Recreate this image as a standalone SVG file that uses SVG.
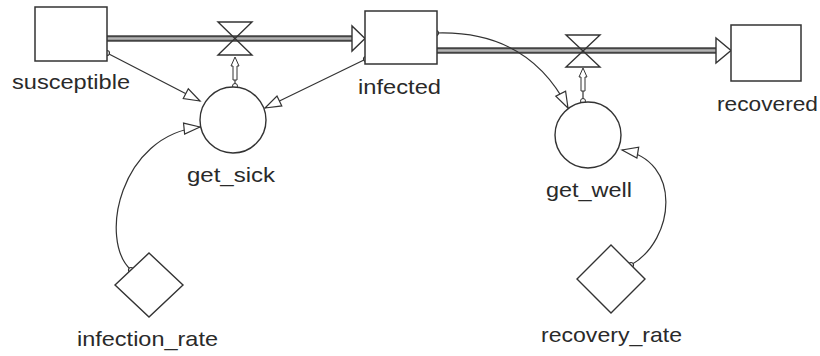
<svg xmlns="http://www.w3.org/2000/svg" width="820" height="356" viewBox="0 0 820 356">
<style>
.stock{fill:#fff;stroke:#333;stroke-width:1.5}
.aux{fill:#fff;stroke:#333;stroke-width:1.4}
.lbl{font-family:"Liberation Sans",Arial,sans-serif;font-size:21px;fill:#2a2a2a}
.conn{fill:none;stroke:#333;stroke-width:1.2}
.pipeO{stroke:#444;stroke-width:6.5;fill:none}
.pipeI{stroke:#b4b4b4;stroke-width:2.5;fill:none}
.valve{fill:none;stroke:#333;stroke-width:1.4}
.head{fill:#fff;stroke:#333;stroke-width:1.4}
.small{fill:#fff;stroke:#333;stroke-width:1}
</style>
<defs>
<marker id="arr" markerUnits="userSpaceOnUse" markerWidth="20" markerHeight="14" viewBox="-18 -7 20 14" refX="0" refY="0" orient="auto">
<path d="M0,0 L-16,-5.5 L-16,5.5 Z" fill="#fff" stroke="#333" stroke-width="1.2"/>
</marker>
<marker id="dot" markerUnits="userSpaceOnUse" markerWidth="8" markerHeight="8" viewBox="-4 -4 8 8" refX="0" refY="0">
<circle r="2.5" fill="#fff" stroke="#333" stroke-width="1.2"/>
</marker>
</defs>

<g id="flows">
<g id="pipe-get_sick">
<line class="pipeO" x1="107" y1="38.5" x2="352" y2="38.5"/>
<line class="pipeI" x1="107" y1="38.5" x2="352" y2="38.5"/>
<path class="valve" d="M218,22 H252 L218,55 H252 Z"/>
<path class="head" d="M352,26 L352,51 L365,38.5 Z"/>
</g>
<g id="pipe-get_well">
<line class="pipeO" x1="437" y1="50.5" x2="716" y2="50.5"/>
<line class="pipeI" x1="437" y1="50.5" x2="716" y2="50.5"/>
<path class="valve" d="M566,35 H600 L566,67 H600 Z"/>
<path class="head" d="M716,38 L716,63 L731,50.5 Z"/>
</g>
</g>

<g id="connectors">
<path class="conn" d="M107,53 L200,101" marker-start="url(#dot)" marker-end="url(#arr)"/>
<path class="conn" d="M366,59 L265,108" marker-start="url(#dot)" marker-end="url(#arr)"/>
<path class="conn" d="M131,270 C98,240 120,135 200,127" marker-start="url(#dot)" marker-end="url(#arr)"/>
<path class="conn" d="M436,33 Q528,30 568,108" marker-start="url(#dot)" marker-end="url(#arr)"/>
<path class="conn" d="M631,265 C675,240 683,160 622,150" marker-start="url(#dot)" marker-end="url(#arr)"/>
<g id="valve-link-1">
<line class="conn" x1="235" y1="80" x2="235" y2="85"/>
<path class="small" d="M235,57 L239,66 L237,66 L237,80 L233,80 L233,66 L231,66 Z"/>
<circle class="small" cx="235" cy="86" r="2.5"/>
</g>
<g id="valve-link-2">
<line class="conn" x1="583" y1="91" x2="583" y2="100"/>
<path class="small" d="M583,68 L587,77 L585,77 L585,91 L581,91 L581,77 L579,77 Z"/>
<circle class="small" cx="583" cy="101" r="2.5"/>
</g>
</g>

<g id="susceptible">
<rect class="stock" x="35" y="7" width="72" height="54"/>
<text class="lbl" x="12" y="89" textLength="118" lengthAdjust="spacingAndGlyphs">susceptible</text>
</g>
<g id="infected">
<rect class="stock" x="365" y="11" width="72" height="53"/>
<text class="lbl" x="358" y="94" textLength="83" lengthAdjust="spacingAndGlyphs">infected</text>
</g>
<g id="recovered">
<rect class="stock" x="731" y="25" width="70" height="56"/>
<text class="lbl" x="717" y="111" textLength="101" lengthAdjust="spacingAndGlyphs">recovered</text>
</g>
<g id="get_sick">
<circle class="aux" cx="233" cy="120" r="33"/>
<text class="lbl" x="187" y="182" textLength="88" lengthAdjust="spacingAndGlyphs">get_sick</text>
</g>
<g id="get_well">
<circle class="aux" cx="588" cy="135" r="33"/>
<text class="lbl" x="546" y="197" textLength="86" lengthAdjust="spacingAndGlyphs">get_well</text>
</g>
<g id="infection_rate">
<polygon class="aux" points="149,253 183,285 149,317 115,285"/>
<text class="lbl" x="77" y="346" textLength="141" lengthAdjust="spacingAndGlyphs">infection_rate</text>
</g>
<g id="recovery_rate">
<polygon class="aux" points="611,245 645,279 611,313 577,279"/>
<text class="lbl" x="541" y="342" textLength="141" lengthAdjust="spacingAndGlyphs">recovery_rate</text>
</g>
</svg>
